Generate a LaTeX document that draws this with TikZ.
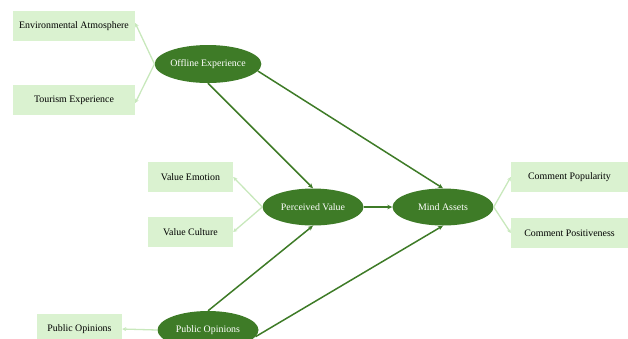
\documentclass[tikz,border=0pt]{standalone}
\usepackage{fontspec}
\setmainfont{Liberation Serif}
\usetikzlibrary{shapes.geometric,arrows.meta}
\definecolor{dkgreen}{HTML}{3E7B27}
\definecolor{boxfill}{HTML}{DAF2D0}
\definecolor{ltline}{HTML}{C8E8BC}
\tikzset{
  box/.style={fill=boxfill, draw=none, minimum height=30pt, inner sep=0pt, font=\fontsize{9.9}{11}\selectfont, text=black},
  ell/.style={ellipse, fill=dkgreen, draw=none, minimum width=101pt, minimum height=38pt, inner sep=0pt, font=\fontsize{9.9}{11}\selectfont, text=white},
  main/.style={draw=dkgreen, line width=1.5pt, -{Stealth[length=5pt,width=4.5pt]}},
  light/.style={draw=ltline, line width=1.3pt, -{Stealth[length=4pt,width=4pt]}}
}
\begin{document}
\begin{tikzpicture}[x=1pt,y=-1pt]
\useasboundingbox (0,0) rectangle (628,338);
\clip (0,0) rectangle (628,338);
\node[box, minimum width=122pt] (ea) at (74,26) {Environmental Atmosphere};
\node[box, minimum width=122pt] (te) at (74,100) {Tourism Experience};
\node[ell] (oe) at (208,64) {Offline Experience};
\node[box, minimum width=85pt] (ve) at (190.5,177) {Value Emotion};
\node[box, minimum width=85pt] (vc) at (190.5,232) {Value Culture};
\node[ell, minimum height=37pt] (pv) at (313,207) {Perceived Value};
\node[ell, minimum height=37pt] (ma) at (443,207) {Mind Assets};
\node[box, minimum width=117pt] (cp) at (569.5,177) {Comment Popularity};
\node[box, minimum width=117pt] (cpo) at (569.5,233) {Comment Positiveness};
\node[ell] (po) at (208,330) {Public Opinions};
\node[box, minimum width=85pt] (pob) at (79.5,329) {Public Opinions};

\draw[light] (oe.west) -- ([yshift=3pt]ea.east);
\draw[light] (oe.west) -- ([yshift=-3pt]te.east);
\draw[light] (pv.west) -- (ve.east);
\draw[light] (pv.west) -- (vc.east);
\draw[light] (ma.east) -- (cp.west);
\draw[light] (ma.east) -- (cpo.west);
\draw[light] (po.west) -- (pob.east);

\draw[main] (oe.south) -- (pv.north);
\draw[main] (oe.-8) -- (ma.north);
\draw[main] (pv.east) -- (ma.west);
\draw[main] (po.north) -- (pv.south);
\draw[main] (po.-8) -- (ma.south);
\end{tikzpicture}
\end{document}
